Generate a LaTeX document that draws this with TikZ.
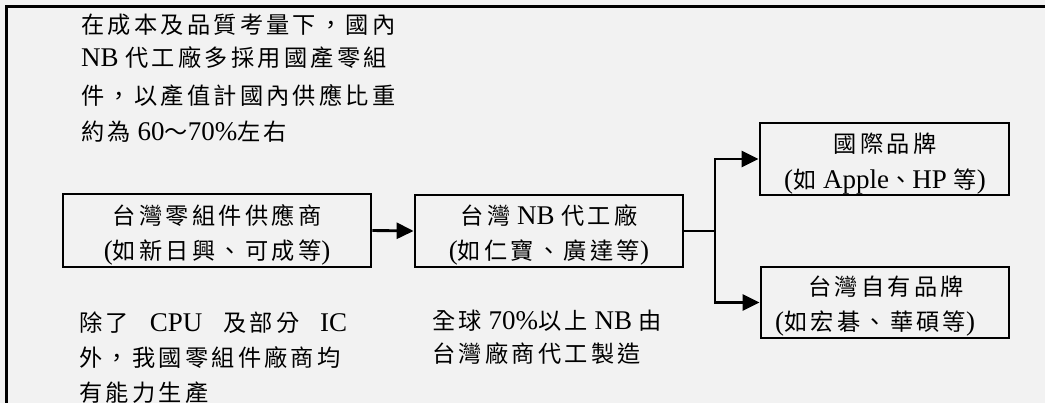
\documentclass[tikz,border=0pt]{standalone}
\usepackage{fontspec}
\setmainfont{Liberation Serif}
\newfontfamily\cjk[Scale=0.86,LetterSpace=14]{Noto Sans CJK TC}
\newcommand\zh[1]{{\cjk #1}}
\usetikzlibrary{arrows.meta}
\definecolor{bgc}{HTML}{F2F2F2}
\tikzset{
  boxnode/.style={draw, line width=2.8pt, inner sep=0pt},
  arr/.style={line width=2.9pt, -{Triangle[length=17pt,width=16pt]}},
  txt/.style={inner sep=0pt, font=\fontsize{27}{35}\selectfont},
  conn/.style={line width=2.9pt}
}
\begin{document}
\begin{tikzpicture}[x=1pt,y=-1pt]
\fill[bgc] (0,0) rectangle (1045,403);
\useasboundingbox (0,0) rectangle (1045,403);
% frame
\draw[line width=3pt] (6,403) -- (6,6.5) -- (1045,6.5);
% boxes
\node[boxnode, minimum width=308pt, minimum height=73pt] (b1) at (217,230.5) {};
\node[boxnode, minimum width=268pt, minimum height=72pt] (b2) at (549,231) {};
\node[boxnode, minimum width=249pt, minimum height=72pt] (b3) at (884.5,159) {};
\node[boxnode, minimum width=248pt, minimum height=71pt] (b4) at (885,302.5) {};
% box texts
\node[txt, anchor=base] (b1a) at (217,225) {\zh{台灣零組件供應商}};
\node[txt, anchor=base] (b1b) at (217,260) {(\zh{如新日興、可成等})};
\node[txt, anchor=base] (b2a) at (549,225) {\zh{台灣} NB \zh{代工廠}};
\node[txt, anchor=base] (b2b) at (549,260) {(\zh{如仁寶、廣達等})};
\node[txt, anchor=base] (b3a) at (885,153) {\zh{國際品牌}};
\node[txt, anchor=base] (b3b) at (885,189) {(\zh{如} Apple\zh{、}HP \zh{等})};
\node[txt, anchor=base] (b4a) at (886,296) {\zh{台灣自有品牌}};
\node[txt, anchor=base west] (b4b) at (775,331) {(\zh{如宏碁、華碩等})};
% connectors
\draw[arr] (b1.east) -- (b2.west);
\coordinate (j) at (715,231);
\draw[conn] (b2.east) -- (j);
\draw[arr] (j) |- (b3.west);
\draw[arr] (j) |- (b4.west);
% top-left text
\node[txt, anchor=base west] (t1) at (81,34) {\zh{在成本及品質考量下，國內}};
\node[txt, anchor=base west] (t2) at (81,67) {NB \zh{代工廠多採用國產零組}};
\node[txt, anchor=base west] (t3) at (81,105) {\zh{件，以產值計國內供應比重}};
\node[txt, anchor=base west] (t4) at (81,141) {\zh{約為} 60\zh{～}70\%\zh{左右}};
% bottom-left text
\node[txt, anchor=base west] (l1) at (79,332) {\hbox to 268pt{\zh{除了}\hfill CPU\hfill\zh{及部分}\hfill IC}};
\node[txt, anchor=base west] (l2) at (79,367) {\zh{外，我國零組件廠商均}};
\node[txt, anchor=base west] (l3) at (79,402) {\zh{有能力生產}};
% bottom-middle text
\node[txt, anchor=base west] (m1) at (432,330) {\zh{全球} 70\%\zh{以上} NB \zh{由}};
\node[txt, anchor=base west] (m2) at (432,363) {\zh{台灣廠商代工製造}};
\end{tikzpicture}
\end{document}
